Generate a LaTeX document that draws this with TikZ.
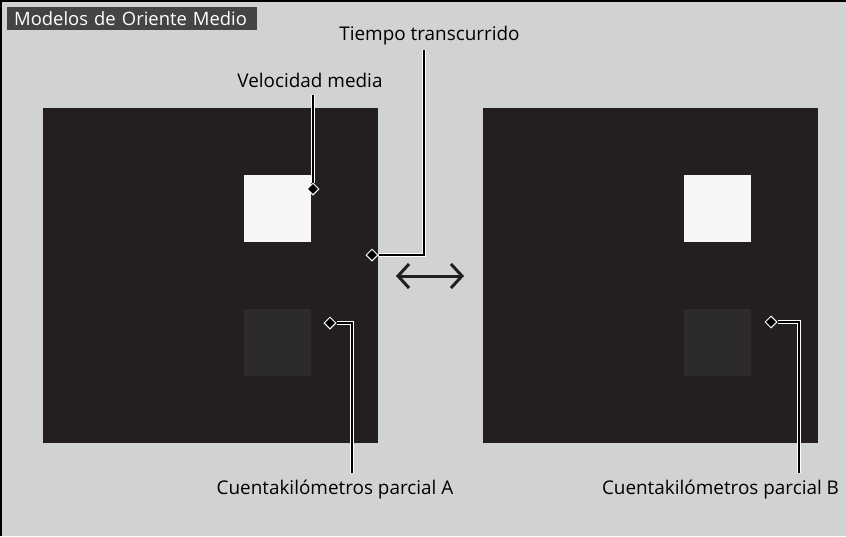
\documentclass[tikz,border=0pt]{standalone}
\usepackage{fontspec}
\setmainfont{Open Sans}
\usetikzlibrary{arrows.meta, shapes.geometric}
\definecolor{panel}{RGB}{209,210,212}
\definecolor{screen}{RGB}{35,31,32}
\definecolor{lit}{RGB}{246,246,246}
\definecolor{dim}{RGB}{44,42,43}
\definecolor{tag}{RGB}{68,68,68}

\begin{document}
\begin{tikzpicture}[x=1pt, y=-1pt,
  label text/.style={font=\fontsize{18.9}{22}\selectfont, text=black, inner sep=0pt, anchor=base},
  leader/.style={draw=white, double=black, double distance=2pt, line width=1pt, line join=miter},
  tip/.style={diamond, fill=black, draw=white, line width=1pt, minimum size=12pt, inner sep=0pt},
  display/.style={fill=screen},
]
  \useasboundingbox (0,0) rectangle (846,536);
  \fill[panel] (0,0) rectangle (846,536);
  \draw[black, line width=1.5pt] (0.75,536) -- (0.75,0.75) -- (846,0.75);
  % title
  \node[fill=tag, text=white, font=\fontsize{18.4}{22}\selectfont, anchor=north west,
        text width=236pt, align=left, inner xsep=7pt, inner ysep=0pt,
        minimum height=23pt] (title) at (7,7) {Modelos de Oriente Medio};
  % screens
  \fill[display] (43,108) rectangle (378,443);
  \fill[display] (483,108) rectangle (818,443);
  \fill[lit] (244,175) rectangle (311,242);
  \fill[dim] (244,309) rectangle (311,376);
  \fill[lit] (684,175) rectangle (751,242);
  \fill[dim] (684,309) rectangle (751,376);
  % swap arrow
  \coordinate (swapL) at (396,276);
  \coordinate (swapR) at (464,276);
  \draw[screen, line width=3pt, {Straight Barb[length=11pt, width=24pt, line width=3pt]}-{Straight Barb[length=11pt, width=24pt, line width=3pt]}] (swapL) -- (swapR);
  % labels
  \node[label text] (speed) at (310,87) {Velocidad media};
  \node[label text] (time) at (429.5,40) {Tiempo transcurrido};
  \node[label text] (tripA) at (335,494) {Cuentakilómetros parcial A};
  \node[label text] (tripB) at (720.5,494) {Cuentakilómetros parcial B};
  % leaders
  \node[tip] (speedTip) at (313,189) {};
  \node[tip] (timeTip) at (372,255) {};
  \node[tip] (tripATip) at (330,323) {};
  \node[tip] (tripBTip) at (771,322) {};
  \coordinate (speedTop) at (313,95);
  \coordinate (timeTop) at (424,50);
  \coordinate (tripABot) at (352,473);
  \coordinate (tripBBot) at (799,473);
  \draw[leader] (speedTop) -- (speedTip.north);
  \draw[leader] (timeTop) |- (timeTip.east);
  \draw[leader] (tripABot) |- (tripATip.east);
  \draw[leader] (tripBBot) |- (tripBTip.east);
\end{tikzpicture}
\end{document}
